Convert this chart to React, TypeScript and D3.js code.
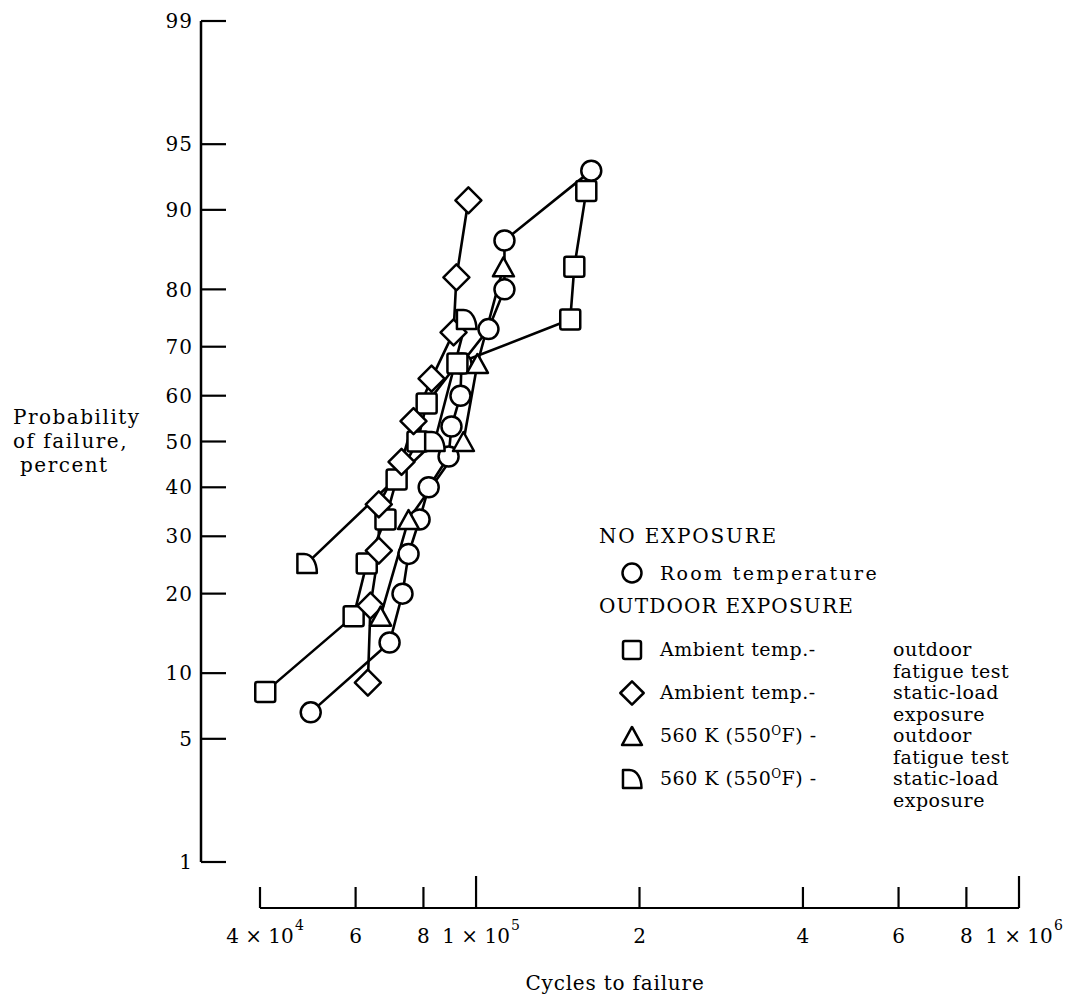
import React from "react";
import * as d3 from "d3";

// ---- Data (cycles to failure, probability of failure in percent) ----
const roomTempCycles = [49600, 69300, 73200, 75100, 78700, 81800, 89000, 90100, 93600, 94000, 105400, 112800, 112800, 163000];
const roomTempProb = [6.7, 13.3, 20, 26.7, 33.3, 40, 46.7, 53.3, 60, 66.7, 73.3, 80, 86.7, 93.3];

const ambientFatigueCycles = [40900, 59500, 62900, 68100, 71400, 78000, 81100, 92400, 149100, 151700, 159600];
const ambientFatigueProb = [8.3, 16.7, 25, 33.3, 41.7, 50, 58.3, 66.7, 75, 83.3, 91.7];

const ambientStaticCycles = [63200, 63900, 66200, 66200, 72900, 76700, 82800, 90900, 92000, 96800];
const ambientStaticProb = [9.1, 18.2, 27.3, 36.4, 45.5, 54.5, 63.6, 72.7, 81.8, 90.9];

const hotFatigueCycles = [66700, 75100, 94800, 100600, 112300];
const hotFatigueProb = [16.7, 33.3, 50, 66.7, 83.3];

const hotStaticCycles = [48800, 83900, 96000];
const hotStaticProb = [25, 50, 75];

const yTicks = [1, 5, 10, 20, 30, 40, 50, 60, 70, 80, 90, 95, 99];
const xTicks = [4e4, 6e4, 8e4, 1e5, 2e5, 4e5, 6e5, 8e5, 1e6];
const xTickBase = ["4 \u00d7 10", "6", "8", "1 \u00d7 10", "2", "4", "6", "8", "1 \u00d7 10"];
const xTickExp = ["4", "", "", "5", "", "", "", "", "6"];
const xMajor = [1e5, 1e6];

// inverse normal CDF (Acklam)
function probit(p: number): number {
  const a = [-3.969683028665376e1, 2.209460984245205e2, -2.759285104469687e2, 1.38357751867269e2, -3.066479806614716e1, 2.506628277459239];
  const b = [-5.447609879822406e1, 1.615858368580409e2, -1.556989798598866e2, 6.680131188771972e1, -1.328068155288572e1];
  const c = [-7.784894002430293e-3, -3.223964580411365e-1, -2.400758277161838, -2.549732539343734, 4.374664141464968, 2.938163982698783];
  const d = [7.784695709041462e-3, 3.224671290700398e-1, 2.445134137142996, 3.754408661907416];
  const pl = 0.02425;
  if (p < pl) {
    const q = Math.sqrt(-2 * Math.log(p));
    return (((((c[0] * q + c[1]) * q + c[2]) * q + c[3]) * q + c[4]) * q + c[5]) / ((((d[0] * q + d[1]) * q + d[2]) * q + d[3]) * q + 1);
  }
  if (p > 1 - pl) {
    const q = Math.sqrt(-2 * Math.log(1 - p));
    return -(((((c[0] * q + c[1]) * q + c[2]) * q + c[3]) * q + c[4]) * q + c[5]) / ((((d[0] * q + d[1]) * q + d[2]) * q + d[3]) * q + 1);
  }
  const q = p - 0.5;
  const r = q * q;
  return ((((((a[0] * r + a[1]) * r + a[2]) * r + a[3]) * r + a[4]) * r + a[5]) * q) / (((((b[0] * r + b[1]) * r + b[2]) * r + b[3]) * r + b[4]) * r + 1);
}

const FONT = "'DejaVu Serif', serif";

const xScale = d3.scaleLog().domain([4e4, 1e6]).range([260, 1019]);
const zScale = d3.scaleLinear().domain([probit(0.01), probit(0.99)]).range([862, 21]);
const yPos = (pct: number) => zScale(probit(pct / 100));

type Shape = "circle" | "square" | "diamond" | "triangle" | "dshape";

function Marker({ shape, x, y, s = 1 }: { shape: Shape; x: number; y: number; s?: number }) {
  const common = { fill: "#fff", stroke: "#000", strokeWidth: 2.5, strokeLinejoin: "round" as const };
  if (shape === "circle") return <circle cx={x} cy={y} r={10 * s} {...common} />;
  if (shape === "square")
    return <rect x={x - 10 * s} y={y - 10 * s} width={20 * s} height={20 * s} rx={2} {...common} />;
  if (shape === "diamond") {
    const h = 13 * s;
    return <path d={`M${x},${y - h}L${x + h},${y}L${x},${y + h}L${x - h},${y}Z`} {...common} />;
  }
  if (shape === "triangle") {
    const w = 10.5 * s, h = 9.5 * s;
    return <path d={`M${x},${y - h}L${x + w},${y + h}L${x - w},${y + h}Z`} {...common} />;
  }
  const k = 9.5 * s;
  return (
    <path
      d={`M${x - k},${y + k}L${x - k},${y - k}L${x - 0.3 * k},${y - k}C${x + 0.6 * k},${y - k} ${x + 1.05 * k},${y} ${x + 1.05 * k},${y + k}Z`}
      {...common}
    />
  );
}

const series: { shape: Shape; cycles: number[]; prob: number[] }[] = [
  { shape: "circle", cycles: roomTempCycles, prob: roomTempProb },
  { shape: "square", cycles: ambientFatigueCycles, prob: ambientFatigueProb },
  { shape: "diamond", cycles: ambientStaticCycles, prob: ambientStaticProb },
  { shape: "triangle", cycles: hotFatigueCycles, prob: hotFatigueProb },
  { shape: "dshape", cycles: hotStaticCycles, prob: hotStaticProb },
];

const line = d3
  .line<[number, number]>()
  .x((d) => xScale(d[0]))
  .y((d) => yPos(d[1]));

export default function App() {
  const fs = 20;
  const lfs = 19;
  const legX = 599;
  const legT = 660;
  const legR = 893;
  const legM = 632;
  const sup = (t: string) => (
    <tspan baselineShift="super" fontSize={12}>
      {t}
    </tspan>
  );
  return (
    <svg width={1080} height={998} style={{ position: "absolute", left: 0, top: 0, background: "#fff" }} fontFamily={FONT}>
      <rect x={0} y={0} width={1080} height={998} fill="#fff" />
      {/* Y axis */}
      <line x1={201} x2={201} y1={yPos(99)} y2={yPos(1)} stroke="#000" strokeWidth={2.5} />
      {yTicks.map((t) => (
        <g key={t}>
          <line x1={201} x2={226} y1={yPos(t)} y2={yPos(t)} stroke="#000" strokeWidth={2.2} />
          <text x={193} y={yPos(t)} dy="0.36em" textAnchor="end" fontSize={fs} letterSpacing={1}>
            {t}
          </text>
        </g>
      ))}
      <text fontSize={fs} x={13} letterSpacing={1.5}>
        <tspan x={13} y={424}>Probability</tspan>
        <tspan x={13} y={448}>of failure,</tspan>
        <tspan x={20} y={472}>percent</tspan>
      </text>

      {/* X axis */}
      <line x1={xScale(4e4)} x2={xScale(1e6)} y1={908} y2={908} stroke="#000" strokeWidth={2.2} />
      {xTicks.map((t, i) => (
        <g key={t}>
          <line x1={xScale(t)} x2={xScale(t)} y1={908} y2={xMajor.includes(t) ? 876 : 887} stroke="#000" strokeWidth={2.2} />
          <text x={xScale(t)} y={943} textAnchor="middle" fontSize={fs}>
            {xTickBase[i]}
          </text>
          {xTickExp[i] && (
            <text x={xScale(t) + (xTickBase[i].length > 1 ? 35 : 0)} y={930} fontSize={14}>
              {xTickExp[i]}
            </text>
          )}
        </g>
      ))}
      <text x={615} y={990} textAnchor="middle" fontSize={fs} letterSpacing={0.8}>
        Cycles to failure
      </text>

      {/* Lines */}
      {series.map((s, i) => (
        <path
          key={"l" + i}
          d={line(s.cycles.map((c, j) => [c, s.prob[j]] as [number, number])) || ""}
          fill="none"
          stroke="#000"
          strokeWidth={2.6}
          strokeLinejoin="round"
        />
      ))}
      {/* Markers */}
      {series.map((s, i) =>
        s.cycles.map((c, j) => <Marker key={`m${i}-${j}`} shape={s.shape} x={xScale(c)} y={yPos(s.prob[j])} />)
      )}

      {/* Legend */}
      <g fontSize={lfs} letterSpacing={0.5}>
        <text x={legX} y={543} fontSize={fs} letterSpacing={1.8}>NO EXPOSURE</text>
        <Marker shape="circle" x={legM} y={573} s={0.95} />
        <text x={legT} y={580} letterSpacing={2.3}>Room temperature</text>
        <text x={legX} y={613} fontSize={fs} letterSpacing={1.2}>OUTDOOR EXPOSURE</text>
        <Marker shape="square" x={legM} y={650} s={0.9} />
        <text x={legT} y={656}>Ambient temp.-</text>
        <text x={legR} y={656}>outdoor</text>
        <text x={legR} y={678}>fatigue test</text>
        <Marker shape="diamond" x={legM} y={693} s={0.9} />
        <text x={legT} y={699}>Ambient temp.-</text>
        <text x={legR} y={699}>static-load</text>
        <text x={legR} y={721}>exposure</text>
        <Marker shape="triangle" x={legM} y={736} s={0.95} />
        <text x={legT} y={742}>560 K (550{sup("O")}F) -</text>
        <text x={legR} y={742}>outdoor</text>
        <text x={legR} y={764}>fatigue test</text>
        <Marker shape="dshape" x={legM} y={779} s={0.95} />
        <text x={legT} y={785}>560 K (550{sup("O")}F) -</text>
        <text x={legR} y={785}>static-load</text>
        <text x={legR} y={807}>exposure</text>
      </g>
    </svg>
  );
}
